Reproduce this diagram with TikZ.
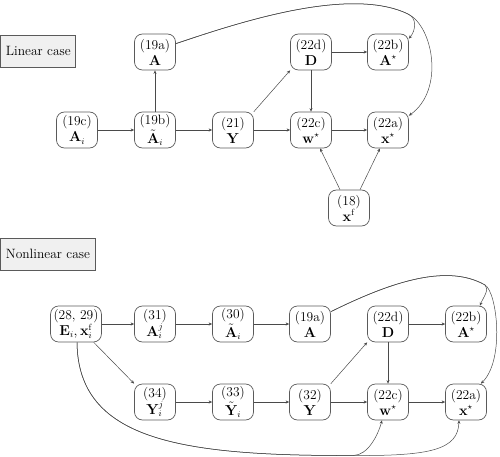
\documentclass[tikz,border=0pt]{standalone}
\usetikzlibrary{arrows.meta,calc}
\definecolor{boxline}{HTML}{5A5A5A}
\definecolor{edgeline}{HTML}{4A4A4A}
\definecolor{labfill}{HTML}{F0F0F0}
\tikzset{
  eq/.style={draw=boxline, line width=0.7pt, rounded corners=8pt, minimum width=41pt,
    minimum height=36pt, inner xsep=3pt, inner ysep=1pt, align=center,
    font=\fontsize{13.5}{16}\selectfont},
  casebox/.style={draw=boxline, fill=labfill, line width=0.7pt, minimum height=32pt,
    inner xsep=5pt, anchor=west, font=\fontsize{13.5}{15}\selectfont},
  conn/.style={draw=edgeline, line width=0.5pt, -{Stealth[length=3.5pt,width=3pt]}}
}
\begin{document}
\begin{tikzpicture}[x=1pt,y=-1pt]
\useasboundingbox (0,0) rectangle (500,457);

% ---------------- Linear case ----------------
\node[casebox] (linlab) at (0.5,51) {Linear case};

\node[eq] (L19a) at (155,52) {(19a)\\$\mathbf{A}$};
\node[eq] (L22d) at (311,52) {(22d)\\$\mathbf{D}$};
\node[eq] (L22b) at (388,52) {(22b)\\$\mathbf{A}^{\star}$};
\node[eq] (L19c) at (77,130) {(19c)\\$\mathbf{A}_i$};
\node[eq] (L19b) at (155,130) {(19b)\\[1.5pt]$\tilde{\mathbf{A}}_i$};
\node[eq] (L21)  at (233,130) {(21)\\$\mathbf{Y}$};
\node[eq] (L22c) at (311,130) {(22c)\\$\mathbf{w}^{\star}$};
\node[eq] (L22a) at (388,130) {(22a)\\$\mathbf{x}^{\star}$};
\node[eq] (L18)  at (349,208) {(18)\\$\mathbf{x}^{\mathrm{f}}$};

\draw[conn] (L19c) -- (L19b);
\draw[conn] (L19b) -- (L19a);
\draw[conn] (L19b) -- (L21);
\draw[conn] (L21) -- (L22c);
\draw[conn] (L21.north east) -- (L22d.south west);
\draw[conn] (L22d) -- (L22b);
\draw[conn] (L22d) -- (L22c);
\draw[conn] (L22c) -- (L22a);
\draw[conn] ($(L18.north)+(-9,0)$) -- ($(L22c.south)+(9,0)$);
\draw[conn] ($(L18.north)+(11,0)$) -- ($(L22a.south)+(-8,0)$);

\coordinate (LP) at (408,14);
\draw[conn] ($(L19a.north east)+(0,10)$) .. controls (240,22) and (350,-14) .. (LP)
  .. controls (417,18) and (416,30) .. ($(L22b.north east)+(0,5)$);
\draw[conn] ($(L19a.north east)+(0,10)$) .. controls (240,22) and (350,-14) .. (LP)
  .. controls (433,26) and (445,90) .. ($(L22a.north east)+(0,4)$);

% ---------------- Nonlinear case ----------------
\node[casebox] (nonlab) at (0.5,254) {Nonlinear case};

\node[eq] (N28)  at (76,324)  {(28, 29)\\$\mathbf{E}_i, \mathbf{x}_i^{\mathrm{f}}$};
\node[eq] (N31)  at (155,324) {(31)\\$\mathbf{A}_i^j$};
\node[eq] (N30)  at (233,324) {(30)\\[1.5pt]$\tilde{\mathbf{A}}_i$};
\node[eq] (N19a) at (310,324) {(19a)\\$\mathbf{A}$};
\node[eq] (N22d) at (388,324) {(22d)\\$\mathbf{D}$};
\node[eq] (N22b) at (466,324) {(22b)\\$\mathbf{A}^{\star}$};
\node[eq] (N34)  at (155,402) {(34)\\$\mathbf{Y}_i^j$};
\node[eq] (N33)  at (233,402) {(33)\\[1.5pt]$\tilde{\mathbf{Y}}_i$};
\node[eq] (N32)  at (310,402) {(32)\\$\mathbf{Y}$};
\node[eq] (N22c) at (388,402) {(22c)\\$\mathbf{w}^{\star}$};
\node[eq] (N22a) at (466,402) {(22a)\\$\mathbf{x}^{\star}$};

\draw[conn] (N28) -- (N31);
\draw[conn] (N31) -- (N30);
\draw[conn] (N30) -- (N19a);
\draw[conn] (N22d) -- (N22b);
\draw[conn] (N22d) -- (N22c);
\draw[conn] ($(N28.south east)+(-8,0)$) -- (N34.north west);
\draw[conn] (N34) -- (N33);
\draw[conn] (N33) -- (N32);
\draw[conn] (N32) -- (N22c);
\draw[conn] (N22c) -- (N22a);
\draw[conn] (N32.north east) -- (N22d.south west);

\coordinate (NP) at (485,285);
\draw[conn] ($(N19a.north east)+(0,6)$) .. controls (385,285) and (445,262) .. (NP)
  .. controls (490,289) and (483,298) .. ($(N22b.north east)+(-7,0)$);
\draw[conn] ($(N19a.north east)+(0,6)$) .. controls (385,285) and (445,262) .. (NP)
  .. controls (497,292) and (505,360) .. ($(N22a.north east)+(-6,0)$);

\coordinate (NQ) at (353,455.5);
\draw[conn] ($(N28.south)+(1,0)$) .. controls (78,440) and (180,456) .. (NQ)
  .. controls (368,455.5) and (378,435) .. ($(N22c.south)+(-6,0)$);
\draw[conn] ($(N28.south)+(1,0)$) .. controls (78,440) and (180,456) .. (NQ)
  .. controls (430,456) and (458,450) .. ($(N22a.south)+(-7,0)$);
\end{tikzpicture}
\end{document}
